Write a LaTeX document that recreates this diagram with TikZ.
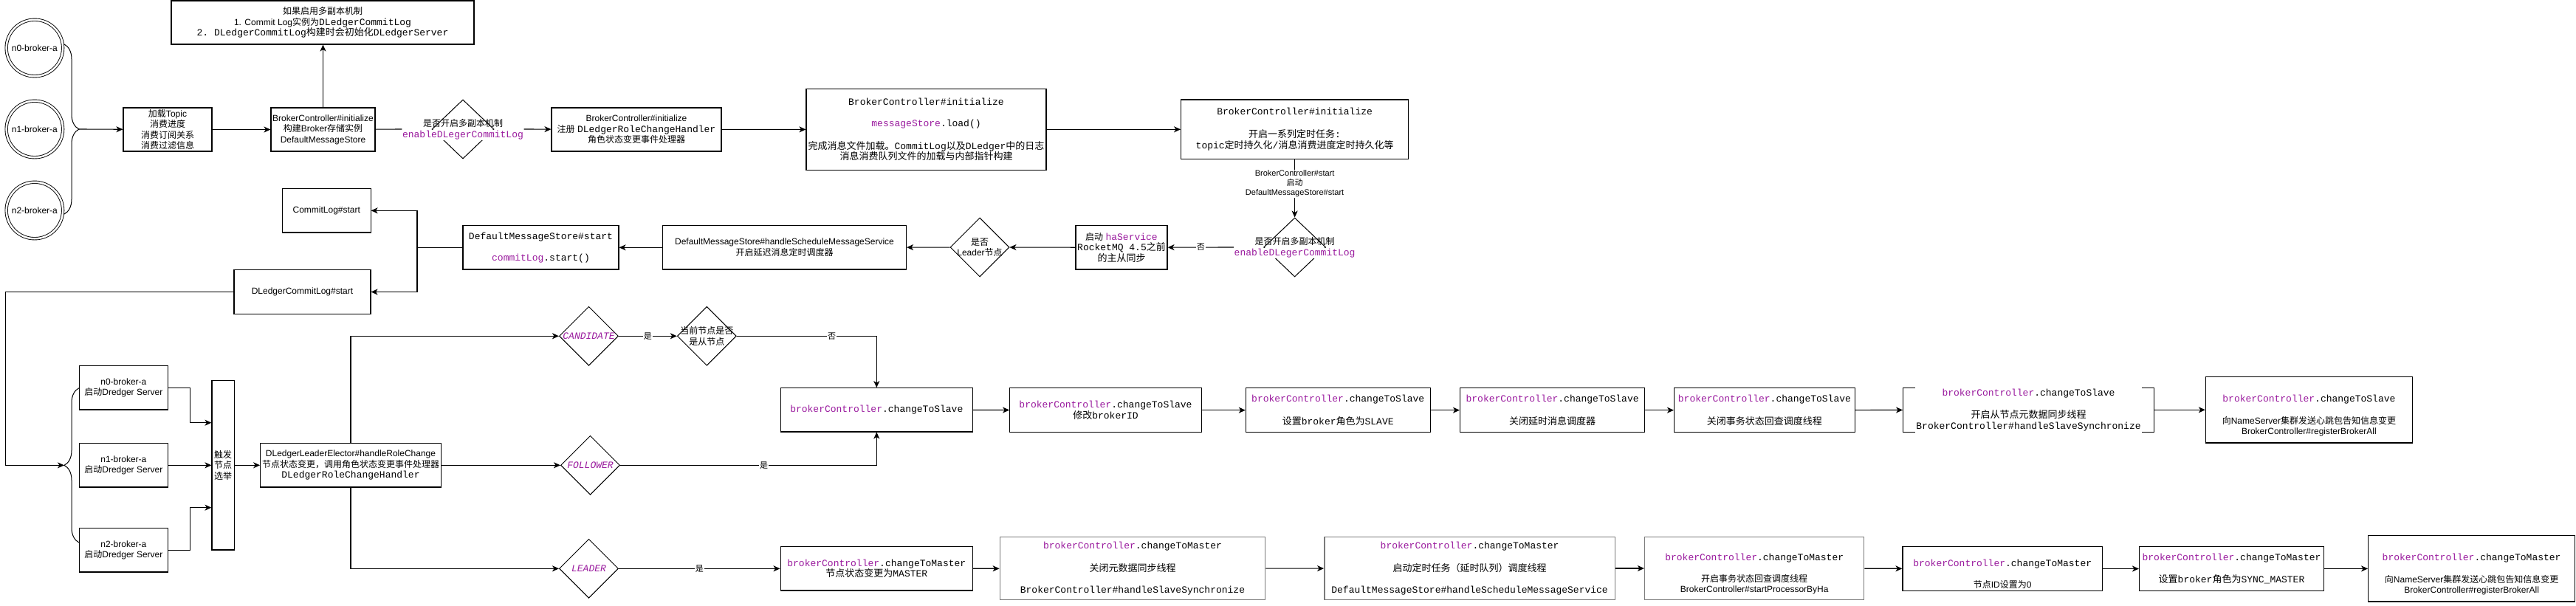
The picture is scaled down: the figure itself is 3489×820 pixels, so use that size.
\documentclass[tikz,border=0pt]{standalone}
\usepackage{fontspec}
\setmainfont{Liberation Sans}
\setsansfont{Liberation Sans}
\setmonofont{Liberation Mono}
\newfontfamily\cjkfont{Noto Sans CJK SC}
\usetikzlibrary{arrows.meta,shapes.geometric,decorations.pathreplacing}
\definecolor{codep}{HTML}{9A1A9E}
\definecolor{gborder}{HTML}{7A7A7A}
% automatic switch to the CJK font for CJK characters
\XeTeXinterchartokenstate=1
\newXeTeXintercharclass\CJKcls
\newcount\cjkc
\cjkc="3000
\loop \XeTeXcharclass\cjkc=\CJKcls \advance\cjkc by 1 \ifnum\cjkc<"3040 \repeat
\cjkc="4E00
\loop \XeTeXcharclass\cjkc=\CJKcls \advance\cjkc by 1 \ifnum\cjkc<"A000 \repeat
\cjkc="FF00
\loop \XeTeXcharclass\cjkc=\CJKcls \advance\cjkc by 1 \ifnum\cjkc<"FFF0 \repeat
\XeTeXinterchartoks 0 \CJKcls = {\begingroup\cjkfont}
\XeTeXinterchartoks 4095 \CJKcls = {\begingroup\cjkfont}
\XeTeXinterchartoks \CJKcls 0 = {\endgroup}
\XeTeXinterchartoks \CJKcls 4095 = {\endgroup}
\newcommand\mcode[1]{{\ttfamily\fontsize{13}{14.5}\selectfont #1}}
\newcommand\pcode[1]{{\color{codep}\ttfamily\fontsize{13}{14.5}\selectfont #1}}
\newcommand\pcodei[1]{{\color{codep}\ttfamily\itshape\fontsize{13}{14.5}\selectfont #1}}
\begin{document}
\begin{tikzpicture}[x=1pt,y=-1pt,
 base/.style={font=\fontsize{12}{14.5}\selectfont, align=center, inner sep=1pt, text=black},
 box/.style={base, draw, line width=1.1pt},
 gbox/.style={base, draw=gborder, line width=1.5pt},
 nobox/.style={base},
 wh/.style 2 args={minimum width=#1pt, minimum height=#2pt},
 dia/.style={diamond, draw, line width=1pt, inner sep=0pt},
 dcirc/.style={base, circle, draw, double, double distance=2.5pt, line width=0.9pt, minimum size=76.5pt, inner sep=0pt},
 ln/.style={line width=1.1pt},
 arr/.style={line width=1.1pt, -{Stealth[length=9pt,width=8pt,inset=2.5pt]}},
 elab/.style={base, font=\fontsize{11}{13}\selectfont, fill=white, inner sep=1pt},
 brc/.style={line width=1pt, decorate, decoration={brace, amplitude=20pt}}
]
\fill[white] (0,0) rectangle (3489,820);
\useasboundingbox (0,0) rectangle (3489,820);

% ---------- top row ----------
\node[dcirc] (c0) at (46.9,65) {n0-broker-a};
\node[dcirc] (c1) at (46.9,175) {n1-broker-a};
\node[dcirc] (c2) at (46.9,285) {n2-broker-a};
\draw[brc] (87,60) -- (87,290);
\coordinate (b1tip) at (107,175);

\node[box, wh={120}{59}] (topic) at (227,175.5) {加载Topic\\消费进度\\消费订阅关系\\消费过滤信息};
\node[box, wh={141}{59}] (bci) at (437.5,175.5) {BrokerController\#initialize\\构建Broker存储实例\\DefaultMessageStore};
\node[box, wh={410}{59}] (top) at (437,30.5) {如果启用多副本机制\\1. Commit Log实例为\mcode{DLedgerCommitLog}\\\mcode{2. DLedgerCommitLog构建时会初始化DLedgerServer}};
\node[dia, wh={84}{80}] (d1) at (627,175) {};
\node[base] (d1a) at (627,167) {是否开启多副本机制};
\node[base, fill=white, inner sep=0.5pt] (d1b) at (627,183) {\pcode{enableDLegerCommitLog}};
\node[box, wh={230}{59}] (reg) at (862,175.5) {BrokerController\#initialize\\注册 \mcode{DLedgerRoleChangeHandler}\\角色状态变更事件处理器};
\node[box, wh={325}{109.5}] (load) at (1254.5,175.3) {\mcode{BrokerController\#initialize}\\ \strut\\ \pcode{messageStore}\mcode{.load()}\\ \strut\\ \mcode{完成消息文件加载。CommitLog以及DLedger中的日志}\\ \mcode{消息消费队列文件的加载与内部指针构建}};
\node[box, wh={308}{80.7}] (timer) at (1753.6,175.3) {\mcode{BrokerController\#initialize}\\ \strut\\ \mcode{开启一系列定时任务:}\\ \mcode{topic定时持久化/消息消费进度定时持久化等}};
\node[dia, wh={84}{80}] (d2) at (1753.6,335) {};
\node[base] (d2a) at (1753.6,327) {是否开启多副本机制};
\node[base, fill=white, inner sep=0.5pt] (d2b) at (1753.6,343) {\pcode{enableDLegerCommitLog}};
\node[box, wh={124}{59.3}] (ha) at (1519,335.3) {启动 \pcode{haService}\\ \mcode{RocketMQ 4.5之前}\\ \mcode{的主从同步}};
\node[dia, wh={80}{80}] (d3) at (1327,335) {};
\node[base] (d3t) at (1327,335) {是否\\Leader节点};
\node[box, wh={330}{59.3}] (sched) at (1062.5,335.3) {DefaultMessageStore\#handleScheduleMessageService\\开启延迟消息定时调度器};
\node[box, wh={211}{59.3}] (dms) at (732.5,335.3) {\mcode{DefaultMessageStore\#start}\\ \strut\\ \pcode{commitLog}\mcode{.start()}};
\node[box, wh={119.5}{59.3}] (cls) at (442.3,285.3) {CommitLog\#start};
\node[box, wh={185}{59.3}] (dcls) at (409.5,395.5) {DLedgerCommitLog\#start};
\coordinate (jn) at (565,335.3);

% ---------- lower left ----------
\node[box, wh={120.5}{59.3}] (n0b) at (167.4,525.3) {n0-broker-a\\启动Dredger Server};
\node[box, wh={120.5}{59.3}] (n1b) at (167.4,630.3) {n1-broker-a\\启动Dredger Server};
\node[box, wh={120.5}{59.3}] (n2b) at (167.4,745.3) {n2-broker-a\\启动Dredger Server};
\draw[brc] (107,735) -- (107,525.7);
\coordinate (b2tip) at (87,630.35);
\coordinate (lc) at (7.6,630.35);
\node[box, wh={30.4}{229.3}] (trig) at (302.2,630.3) {触发\\节点\\选举};
\coordinate (k0) at (257.6,572.7);
\coordinate (k2) at (257.6,687.7);
\node[box, wh={244.6}{59.3}] (dle) at (475,630.3) {DLedgerLeaderElector\#handleRoleChange\\节点状态变更，调用角色状态变更事件处理器\\\mcode{DLedgerRoleChangeHandler}};

\node[dia, wh={80}{80}] (dc) at (797.5,455.3) {};
\node[base] (dct) at (797.5,455.3) {\pcodei{CANDIDATE}};
\node[dia, wh={80}{80}] (dq) at (957.3,455.3) {};
\node[base] (dqt) at (957.3,455.3) {当前节点是否\\是从节点};
\node[dia, wh={80}{80}] (df) at (799.5,630.3) {};
\node[base] (dft) at (799.5,630.3) {\pcodei{FOLLOWER}};
\node[dia, wh={80}{80}] (dl) at (797.5,770.3) {};
\node[base] (dlt) at (797.5,770.3) {\pcodei{LEADER}};

% ---------- slave chain ----------
\node[box, wh={260.5}{59.3}] (s1) at (1187.3,555.3) {\pcode{brokerController}\mcode{.changeToSlave}};
\node[box, wh={259.6}{60}] (s2) at (1497.5,555.7) {\pcode{brokerController}\mcode{.changeToSlave}\\ \mcode{修改brokerID}};
\node[box, wh={249.7}{60}] (s3) at (1812.2,555.7) {\pcode{brokerController}\mcode{.changeToSlave}\\ \strut\\ \mcode{设置broker角色为SLAVE}};
\node[box, wh={250.2}{60}] (s4) at (2102.6,555.7) {\pcode{brokerController}\mcode{.changeToSlave}\\ \strut\\ \mcode{关闭延时消息调度器}};
\node[box, wh={244.7}{60}] (s5) at (2389.9,555.7) {\pcode{brokerController}\mcode{.changeToSlave}\\ \strut\\ \mcode{关闭事务状态回查调度线程}};
\node[nobox, wh={340.4}{60}] (s6) at (2747.5,555.3) {\pcode{brokerController}\mcode{.changeToSlave}\\ \strut\\ \mcode{开启从节点元数据同步线程}\\ \mcode{BrokerController\#handleSlaveSynchronize}};
\draw[ln] ([xshift=17pt]s6.north west) -- (s6.north west) -- (s6.south west) -- ([xshift=17pt]s6.south west);
\draw[ln] ([xshift=-17pt]s6.north east) -- (s6.north east) -- (s6.south east) -- ([xshift=-17pt]s6.south east);
\node[box, wh={280}{89.3}] (s7) at (3127.4,555.3) {\strut\\ \pcode{brokerController}\mcode{.changeToSlave}\\ \strut\\ 向NameServer集群发送心跳包告知信息变更\\ BrokerController\#registerBrokerAll};

% ---------- master chain ----------
\node[box, wh={260.5}{59.3}] (m1) at (1187.3,770.3) {\pcode{brokerController}\mcode{.changeToMaster}\\ \mcode{节点状态变更为MASTER}};
\node[gbox, wh={359.3}{85}] (m2) at (1534,770.2) {\pcode{brokerController}\mcode{.changeToMaster}\\ \strut\\ \mcode{关闭元数据同步线程}\\ \strut\\ \mcode{BrokerController\#handleSlaveSynchronize}};
\node[gbox, wh={393.6}{85.3}] (m3) at (1990.6,770) {\pcode{brokerController}\mcode{.changeToMaster}\\ \strut\\ \mcode{启动定时任务（延时队列）调度线程}\\ \strut\\ \mcode{DefaultMessageStore\#handleScheduleMessageService}};
\node[gbox, wh={297}{85.3}] (m4) at (2376.2,770) {\strut\\ \pcode{brokerController}\mcode{.changeToMaster}\\ \strut\\ 开启事务状态回查调度线程\\ BrokerController\#startProcessorByHa};
\node[box, wh={270.5}{59.6}] (m5) at (2712.2,770.5) {\strut\\ \pcode{brokerController}\mcode{.changeToMaster}\\ \strut\\ 节点ID设置为0};
\node[box, wh={250}{59.6}] (m6) at (3022.5,770.5) {\pcode{brokerController}\mcode{.changeToMaster}\\ \strut\\ \mcode{设置broker角色为SYNC\_MASTER}};
\node[box, wh={280}{89.3}] (m7) at (3347.6,770.3) {\strut\\ \pcode{brokerController}\mcode{.changeToMaster}\\ \strut\\ 向NameServer集群发送心跳包告知信息变更\\ BrokerController\#registerBrokerAll};

% ---------- connectors: top ----------
\draw[arr] (b1tip) -- (topic);
\draw[arr] (topic) -- (bci);
\draw[arr] (bci.north) -- (bci.north |- top.south);
\draw[ln] (bci) -- (d1b.west |- d1.center);
\draw[arr] (d1b.east |- d1.center) -- (reg);
\draw[arr] (reg) -- (load);
\draw[arr] (load) -- (timer);
\draw[arr] (timer) -- node[elab, pos=0.42] {BrokerController\#start\\启动\\DefaultMessageStore\#start} (d2);
\draw[arr] (d2b.west |- d2.center) -- node[elab] {否} (ha);
\draw[arr] (ha) -- (d3);
\draw[arr] (d3) -- (sched);
\draw[arr] (sched) -- (dms);
\draw[ln] (dms) -- (jn);
\draw[arr] (jn) |- (cls);
\draw[arr] (jn) |- (dcls);
\draw[arr] (dcls.west) -| (lc) -- (b2tip);

% ---------- connectors: election ----------
\draw[arr] (n0b) -| (k0) -- (k0 -| trig.west);
\draw[arr] (n1b) -- (trig);
\draw[arr] (n2b) -| (k2) -- (k2 -| trig.west);
\draw[arr] (trig) -- (dle);
\draw[arr] (dle.north) |- (dc);
\draw[arr] (dle) -- (df);
\draw[arr] (dle.south) |- (dl);
\draw[arr] (dc) -- node[elab] {是} (dq);
\draw[arr] (dq) -| node[elab, pos=0.34] {否} (s1);
\draw[arr] (df) -| node[elab, pos=0.28] {是} (s1);
\draw[arr] (dl) -- node[elab] {是} (m1);

% ---------- connectors: chains ----------
\draw[arr] (s1) -- (s2);
\draw[arr] (s2) -- (s3);
\draw[arr] (s3) -- (s4);
\draw[arr] (s4) -- (s5);
\draw[arr] (s5) -- (s6);
\draw[arr] (s6) -- (s7);
\draw[arr] (m1) -- (m2);
\draw[arr] (m2) -- (m3);
\draw[arr] (m3) -- (m4);
\draw[arr] (m4) -- (m5);
\draw[arr] (m5) -- (m6);
\draw[arr] (m6) -- (m7);
\end{tikzpicture}
\end{document}
